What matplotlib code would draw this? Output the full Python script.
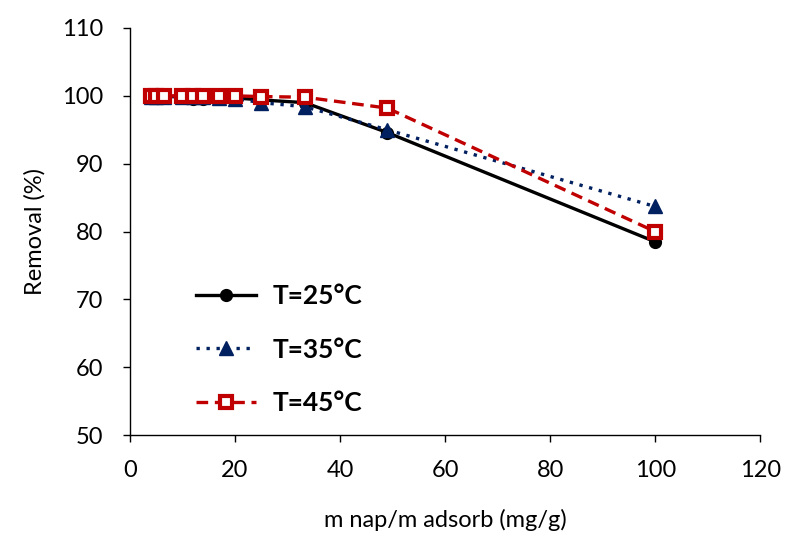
import numpy as np
import matplotlib
matplotlib.use("Agg")
import matplotlib.pyplot as plt

plt.rcParams["font.family"] = ["Lato", "DejaVu Sans"]

# =========================
# DATA
# =========================

ratio = [4, 5, 6.5, 10, 12, 14, 17, 20, 25, 33.3, 49, 100]

removal_25 = [99.9, 99.9, 99.9, 99.9, 99.6, 99.6, 99.7, 99.7, 99.4, 99.0, 94.6, 78.5]
removal_35 = [99.9, 99.9, 99.9, 99.9, 99.8, 99.8, 99.7, 99.6, 99.0, 98.4, 95.0, 83.7]
removal_45 = [100.0, 100.0, 100.0, 100.0, 100.0, 100.0, 100.0, 100.0, 99.9, 99.8, 98.2, 80.0]

labels = ["T=25°C", "T=35°C", "T=45°C"]

# =========================
# PLOT
# =========================

fig = plt.figure(figsize=(7.87, 5.38), dpi=100)
ax = fig.add_axes([0.165, 0.191, 0.801, 0.757])

ax.plot(ratio, removal_25, color="black", linestyle="-", linewidth=2.4,
        marker="o", markersize=8.5, label=labels[0])
ax.plot(ratio, removal_35, color="#002060", linestyle=(0, (1, 2)), linewidth=2.4,
        marker="^", markersize=10, label=labels[1])
ax.plot(ratio, removal_45, color="#C00000", linestyle=(0, (3.5, 2)), linewidth=2.4,
        marker="s", markersize=9, markerfacecolor="white", markeredgewidth=3,
        label=labels[2])

ax.set_xlim(0, 120)
ax.set_ylim(50, 110)
ax.set_xticks(np.arange(0, 121, 20))
ax.set_yticks(np.arange(50, 111, 10))
ax.tick_params(axis="both", labelsize=17, direction="out", length=5, width=1)
ax.tick_params(axis="x", pad=13)
ax.tick_params(axis="y", pad=14)

ax.spines["top"].set_visible(False)
ax.spines["right"].set_visible(False)
for s in ["left", "bottom"]:
    ax.spines[s].set_linewidth(1)

ax.set_xlabel("m nap/m adsorb (mg/g)", fontsize=17, labelpad=20)
ax.set_ylabel("Removal (%)", fontsize=17, labelpad=12)

ax.legend(loc="lower left", bbox_to_anchor=(0.075, 0.004), frameon=False,
          prop={"weight": "bold", "size": 19}, handlelength=2.3,
          labelspacing=1.12, handletextpad=0.6, borderpad=0.2)

fig.savefig("out.png", dpi=100)
